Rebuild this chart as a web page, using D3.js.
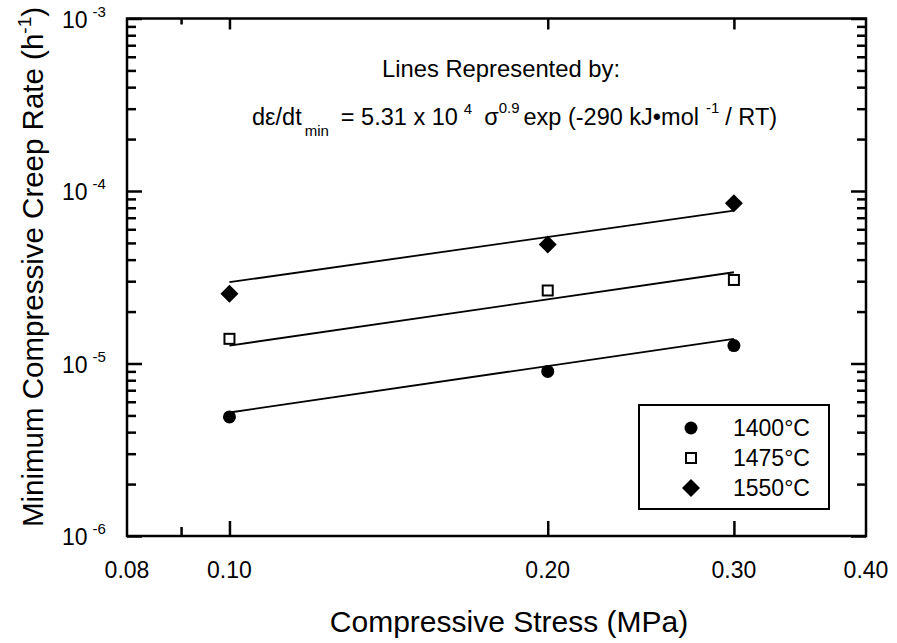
<!DOCTYPE html>
<html>
<head>
<meta charset="utf-8">
<script src="https://cdn.jsdelivr.net/npm/d3@7"></script>
<style>
  html, body { margin: 0; padding: 0; background: #fff; }
  svg { display: block; font-family: "Liberation Sans", Arial, Helvetica, sans-serif; }
</style>
</head>
<body>
<svg id="chart" width="897" height="643"></svg>
<script>
// Creep rate vs compressive stress, log-log

const stress = [0.10, 0.20, 0.30];
const rate1400 = [4.9e-6, 9.0e-6, 1.27e-5];
const rate1475 = [1.39e-5, 2.65e-5, 3.05e-5];
const rate1550 = [2.54e-5, 4.9e-5, 8.5e-5];

// fitted lines (end points)
const fitStress = [0.10, 0.30];
const fit1400 = [5.2e-6, 1.39e-5];
const fit1475 = [1.27e-5, 3.38e-5];
const fit1550 = [2.96e-5, 7.7e-5];

const seriesNames = ['1400°C', '1475°C', '1550°C'];
const seriesSymbols = ['circle', 'square', 'diamond'];

const xTickLabels = [0.08, 0.10, 0.20, 0.30, 0.40];
const xMajorTicks = [0.10, 0.20, 0.30];
const xMinorTicks = [0.09];
const yMajorTicks = [1e-6, 1e-5, 1e-4, 1e-3];
const yTickExp = ['-6', '-5', '-4', '-3'];

const margin = { left: 127, right: 866, top: 18.5, bottom: 536 };
const small = 23;

const svg = d3.select('#chart');

const x = d3.scaleLog().domain([0.08, 0.40]).range([margin.left, margin.right]);
const y = d3.scaleLog().domain([1e-6, 1e-3]).range([margin.bottom, margin.top]);

const yMinor = y.ticks().filter(v => !yMajorTicks.some(m => Math.abs(m - v) / m < 1e-6));

// ---- ticks (inward, on all four sides) ----
function tickGroup(axisFn, scale, values, size, transform) {
    const g = svg.append('g')
        .attr('transform', transform)
        .call(axisFn(scale).tickValues(values).tickSizeInner(-size).tickSizeOuter(0).tickFormat(''));
    g.select('.domain').remove();
    g.selectAll('line').attr('stroke', '#000').attr('stroke-width', 2.5);
    return g;
}

tickGroup(d3.axisBottom, x, xMajorTicks, 15, `translate(0,${margin.bottom})`);
tickGroup(d3.axisBottom, x, xMinorTicks, 9, `translate(0,${margin.bottom})`);
tickGroup(d3.axisTop, x, xMajorTicks, 11, `translate(0,${margin.top})`);
tickGroup(d3.axisTop, x, xMinorTicks, 6, `translate(0,${margin.top})`);
tickGroup(d3.axisLeft, y, yMajorTicks, 15, `translate(${margin.left},0)`);
tickGroup(d3.axisLeft, y, yMinor, 9, `translate(${margin.left},0)`);
tickGroup(d3.axisRight, y, yMajorTicks, 15, `translate(${margin.right},0)`);
tickGroup(d3.axisRight, y, yMinor, 9, `translate(${margin.right},0)`);

// frame
svg.append('rect')
    .attr('x', margin.left).attr('y', margin.top)
    .attr('width', margin.right - margin.left)
    .attr('height', margin.bottom - margin.top)
    .attr('fill', 'none').attr('stroke', '#000').attr('stroke-width', 2.5);

// x tick labels
svg.append('g').selectAll('text')
    .data(xTickLabels)
    .enter().append('text')
    .attr('x', d => x(d))
    .attr('y', 578)
    .attr('text-anchor', 'middle')
    .attr('font-size', small)
    .text(d => d3.format('.2f')(d));

// y tick labels: 10 with superscript exponent
const yLab = svg.append('g').selectAll('text')
    .data(yMajorTicks)
    .enter().append('text')
    .attr('x', 62)
    .attr('y', d => y(d) + 9)
    .attr('font-size', small);
yLab.append('tspan').text('10');
yLab.append('tspan')
    .attr('dx', 5).attr('dy', -11)
    .attr('font-size', 15)
    .text((d, i) => yTickExp[i]);

// axis titles
svg.append('text')
    .attr('x', 509).attr('y', 632)
    .attr('text-anchor', 'middle')
    .attr('font-size', 30)
    .text('Compressive Stress (MPa)');

const yTitle = svg.append('text')
    .attr('transform', 'translate(43,267) rotate(-90)')
    .attr('text-anchor', 'middle')
    .attr('font-size', 29.5);
yTitle.append('tspan').text('Minimum Compressive Creep Rate (h');
yTitle.append('tspan').attr('font-size', 19).attr('dy', -12).text('-1');
yTitle.append('tspan').attr('dy', 12).text(')');

// fitted lines
const line = d3.line().x(d => x(d[0])).y(d => y(d[1]));
[fit1400, fit1475, fit1550].forEach(fit => {
    svg.append('path')
        .datum(fitStress.map((s, i) => [s, fit[i]]))
        .attr('d', line)
        .attr('fill', 'none')
        .attr('stroke', '#000')
        .attr('stroke-width', 1.8);
});

// markers
function drawMarker(g, kind) {
    if (kind === 'circle') {
        g.append('circle').attr('r', 6.5).attr('fill', '#000');
    } else if (kind === 'square') {
        g.append('rect').attr('x', -5).attr('y', -5).attr('width', 10).attr('height', 10)
            .attr('fill', '#fff').attr('stroke', '#000').attr('stroke-width', 2);
    } else {
        g.append('path')
            .attr('d', d3.symbol(d3.symbolSquare, 162)())
            .attr('transform', 'rotate(45)')
            .attr('fill', '#000');
    }
}

[rate1400, rate1475, rate1550].forEach((rates, k) => {
    svg.append('g').selectAll('g')
        .data(stress.map((s, i) => [s, rates[i]]))
        .enter().append('g')
        .attr('transform', d => `translate(${x(d[0])},${y(d[1])})`)
        .each(function () { drawMarker(d3.select(this), seriesSymbols[k]); });
});

// legend
const legend = svg.append('g');
legend.append('rect')
    .attr('x', 639).attr('y', 405).attr('width', 190).attr('height', 104)
    .attr('fill', '#fff').attr('stroke', '#000').attr('stroke-width', 2);
const rowY = [428, 458, 488];
seriesNames.forEach((name, i) => {
    const g = legend.append('g').attr('transform', `translate(691,${rowY[i]})`);
    drawMarker(g, seriesSymbols[i]);
    legend.append('text')
        .attr('x', 733).attr('y', rowY[i] + 8)
        .attr('font-size', small)
        .text(name);
});

// equation annotation
svg.append('text')
    .attr('x', 501).attr('y', 77)
    .attr('text-anchor', 'middle')
    .attr('font-size', 23.8)
    .text('Lines Represented by:');

const eq = svg.append('text')
    .attr('x', 252).attr('y', 125)
    .attr('font-size', 23.5);
eq.append('tspan').text('dε/dt');
eq.append('tspan').attr('font-size', 15).attr('dx', 3).attr('dy', 11).text('min');
eq.append('tspan').attr('dx', 12).attr('dy', -11).text('= 5.31 x 10');
eq.append('tspan').attr('font-size', 15).attr('dx', 6).attr('dy', -11).text('4');
eq.append('tspan').attr('dx', 12).attr('dy', 11).text('σ');
eq.append('tspan').attr('font-size', 15).attr('dy', -12).text('0.9');
eq.append('tspan').attr('dx', 4).attr('dy', 12).text('exp (-290 kJ•mol');
eq.append('tspan').attr('font-size', 15).attr('dx', 7).attr('dy', -12).text('-1');
eq.append('tspan').attr('dx', 6).attr('dy', 12).text('/ RT)');
</script>
</body>
</html>
